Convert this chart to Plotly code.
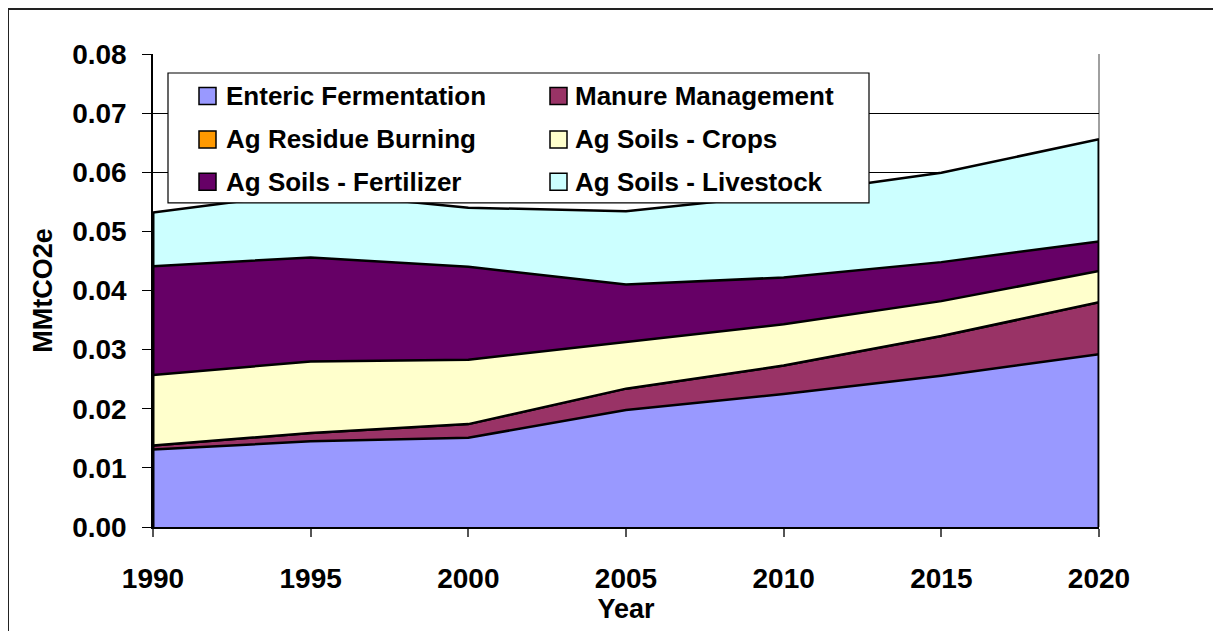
import plotly.graph_objects as go

years = [1990, 1995, 2000, 2005, 2010, 2015, 2020]
series_names = ["Enteric Fermentation", "Manure Management", "Ag Residue Burning",
                "Ag Soils - Crops", "Ag Soils - Fertilizer", "Ag Soils - Livestock"]
enteric = [0.0131, 0.0145, 0.0151, 0.0198, 0.0225, 0.0256, 0.0292]
manure = [0.0007, 0.0014, 0.0023, 0.0036, 0.0048, 0.0067, 0.0088]
residue = [0.0000, 0.0000, 0.0000, 0.0000, 0.0000, 0.0000, 0.0000]
crops = [0.0119, 0.0121, 0.0109, 0.0079, 0.0070, 0.0059, 0.0053]
fertilizer = [0.0184, 0.0176, 0.0157, 0.0097, 0.0079, 0.0066, 0.0050]
livestock = [0.0091, 0.0110, 0.0100, 0.0124, 0.0140, 0.0151, 0.0173]
colors = ["#9999FF", "#993366", "#FF9900", "#FFFFCC", "#660066", "#CCFFFF"]

series_values = [enteric, manure, residue, crops, fertilizer, livestock]

OFF = 8  # browser body margin
W, H = 1221 - OFF, 631 - OFF
ML, MT = 153 - OFF, 54 - OFF
PW, PH = 946, 473.5
MR, MB = W - ML - PW, H - MT - PH


def px(x):
    return (x - OFF - ML) / PW


def py(y):
    return (MT + PH - (y - OFF)) / PH


FONT = "Liberation Sans, Arial, sans-serif"

fig = go.Figure()
for name, vals, col in zip(series_names, series_values, colors):
    fig.add_trace(go.Scatter(
        x=years, y=vals, name=name, stackgroup="one", mode="lines",
        fillcolor=col, line=dict(color="black", width=2.5),
        showlegend=False, hoverinfo="x+y+name"))

totals = [sum(v[i] for v in series_values) for i in range(len(years))]
for xi in (0, len(years) - 1):
    fig.add_trace(go.Scatter(x=[years[xi], years[xi]], y=[0, totals[xi]], mode="lines",
                             line=dict(color="black", width=3), showlegend=False,
                             hoverinfo="skip", cliponaxis=False))

# manual legend
shapes = []
annotations = []
shapes.append(dict(type="rect", xref="paper", yref="paper",
                   x0=px(168), x1=px(869), y0=py(203), y1=py(73),
                   fillcolor="white", line=dict(color="black", width=1.2), layer="above"))
row_y = [96, 139.5, 182]
col_sq = [199, 550]
col_tx = [224, 573]
for i, (name, col) in enumerate(zip(series_names, colors)):
    r, c = divmod(i, 2)
    yc = row_y[r]
    shapes.append(dict(type="rect", xref="paper", yref="paper",
                       x0=px(col_sq[c]), x1=px(col_sq[c] + 17),
                       y0=py(yc + 8.5), y1=py(yc - 8.5),
                       fillcolor=col, line=dict(color="black", width=1.5), layer="above"))
    annotations.append(dict(xref="paper", yref="paper", x=px(col_tx[c]), y=py(yc),
                            text=name, showarrow=False, xanchor="left", yanchor="middle",
                            font=dict(family=FONT, size=26, color="black", weight="bold")))

# right plot border (gray)
shapes.append(dict(type="line", xref="paper", yref="paper", x0=1, x1=1, y0=0, y1=1,
                   line=dict(color="#808080", width=1.5), layer="below"))
# outer chart frame
shapes.append(dict(type="rect", xref="paper", yref="paper",
                   x0=px(8), x1=px(1240), y0=py(660), y1=py(9),
                   fillcolor="rgba(0,0,0,0)", line=dict(color="#222222", width=2), layer="below"))

fig.update_layout(
    width=W, height=H,
    margin=dict(l=ML, r=MR, t=MT, b=MB),
    paper_bgcolor="white", plot_bgcolor="white",
    showlegend=False,
    shapes=shapes, annotations=annotations,
    font=dict(family=FONT, color="black"),
)
fig.update_xaxes(
    range=[1990, 2020], tickvals=years, ticktext=[str(y) for y in years],
    ticks="outside", ticklen=8, tickcolor="#555555", tickwidth=1.5,
    showline=True, linecolor="black", linewidth=1.5,
    showgrid=False, zeroline=False, automargin=False,
    tickfont=dict(family=FONT, size=28, color="black", weight="bold"),
    ticklabelstandoff=18,
    title=dict(text="Year", font=dict(family=FONT, size=27, color="black", weight="bold"),
               standoff=6),
)
fig.update_yaxes(
    range=[0, 0.08], dtick=0.01, tickformat=".2f",
    ticks="outside", ticklen=9, tickcolor="black", tickwidth=1.2,
    showline=True, linecolor="black", linewidth=1.5,
    showgrid=True, gridcolor="black", gridwidth=1, zeroline=False, automargin=False,
    tickfont=dict(family=FONT, size=28, color="black", weight="bold"),
    ticklabelstandoff=10,
    title=dict(text="MMtCO2e", font=dict(family=FONT, size=27, color="black", weight="bold"),
               standoff=12),
)

fig.write_html("out.html")
